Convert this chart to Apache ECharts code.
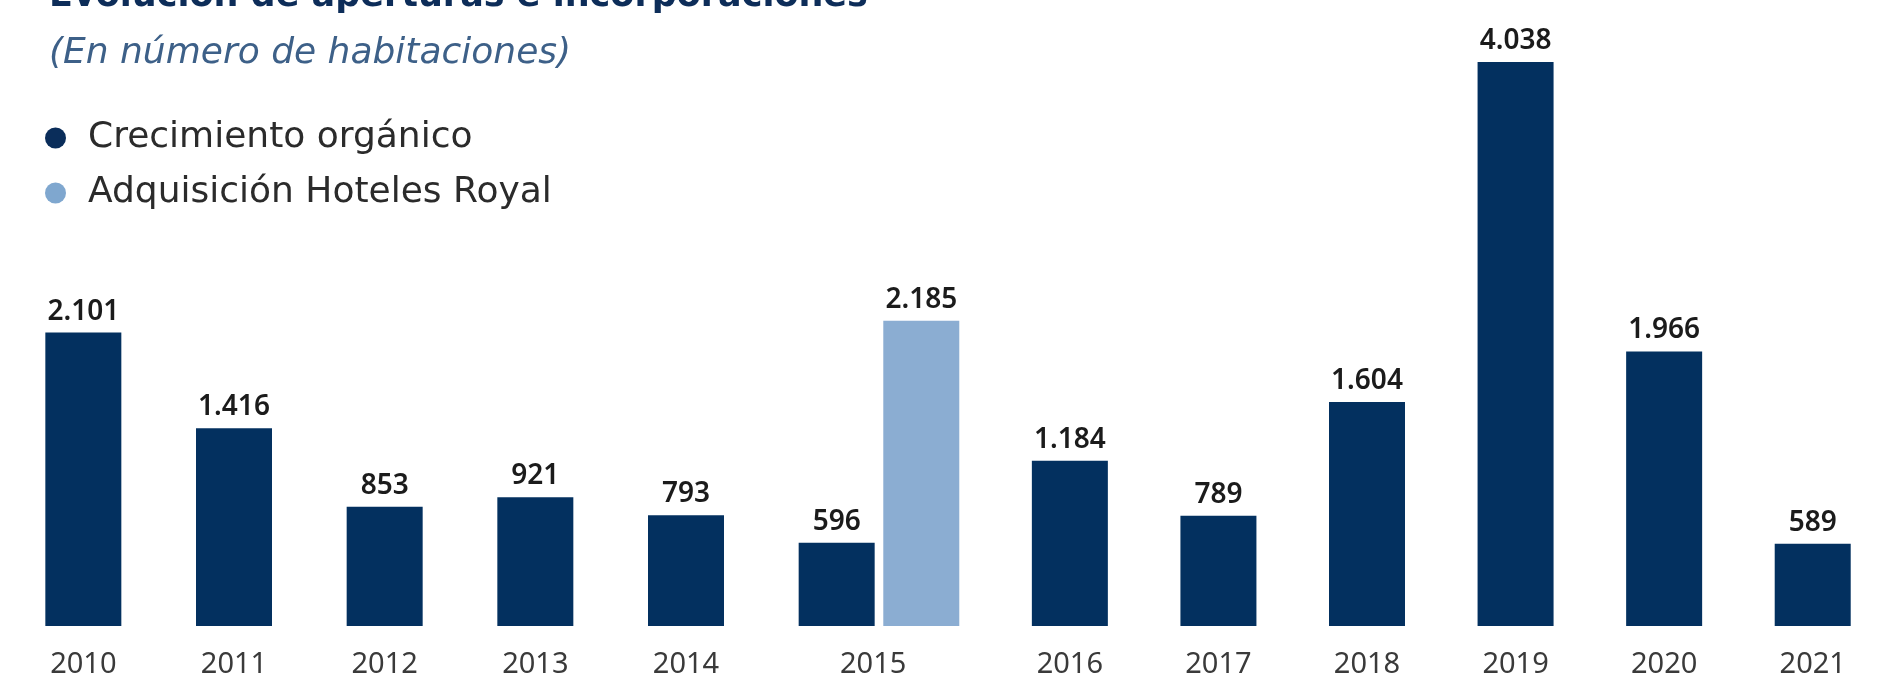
<!DOCTYPE html>
<html>
<head>
<meta charset="utf-8">
<title>Evolución de aperturas e incorporaciones</title>
<script src="https://cdn.jsdelivr.net/npm/echarts@6/dist/echarts.min.js"></script>
<style>
  html, body { margin: 0; padding: 0; background: #ffffff; }
  #chart { width: 1887px; height: 682px; }
</style>
</head>
<body>
<div id="chart"></div>
<script>
// Rooms opened / incorporated per year
const years = ['2010', '2011', '2012', '2013', '2014', '2015', '2016', '2017', '2018', '2019', '2020', '2021'];
const organico = [2101, 1416, 853, 921, 793, 596, 1184, 789, 1604, 4038, 1966, 589];
const royal = [null, null, null, null, null, 2185, null, null, null, null, null, null];

const NAME_ORG = 'Crecimiento orgánico';
const NAME_ROYAL = 'Adquisición Hoteles Royal';
const C_DARK = '#03305f';
const C_LIGHT = '#8badd2';
const FONT = '"Noto Sans", sans-serif';
const FONT_WIDE = '"DejaVu Sans", sans-serif';

// 2010–2015 (organic) sit in the first grid; the 2015 acquisition bar and 2016–2021 in the second
const splitIdx = years.indexOf('2015');
const catsA = years.slice(0, splitIdx + 1);
const catsB = ['2015'].concat(years.slice(splitIdx + 1));
const orgA = organico.slice(0, splitIdx + 1);
const orgB = [null].concat(organico.slice(splitIdx + 1));
const royB = [royal[splitIdx]].concat(years.slice(splitIdx + 1).map(() => null));

const yMax = Math.max(...organico, ...royal.filter(v => v != null));

const fmt = v => String(v).replace(/\B(?=(\d{3})+(?!\d))/g, '.');

const valueLabel = {
  show: true,
  position: 'top',
  distance: 7,
  color: '#1b1b1b',
  fontFamily: FONT,
  fontSize: 28,
  fontWeight: 600,
  formatter: p => (p.value == null ? '' : fmt(p.value))
};

const xLabelBase = {
  color: '#3a3a3a',
  fontFamily: FONT,
  fontSize: 29,
  margin: 24,
  interval: 0
};

const chart = echarts.init(document.getElementById('chart'), null, { renderer: 'canvas' });

chart.setOption({
  animation: false,
  backgroundColor: '#ffffff',
  title: [
    {
      text: 'Evolución de aperturas e incorporaciones',
      left: 44,
      top: -26,
      textStyle: { color: '#0d2d59', fontFamily: FONT_WIDE, fontSize: 35, fontWeight: 'bold' }
    },
    {
      text: '(En número de habitaciones)',
      left: 44,
      top: 31,
      textStyle: { color: '#3d6088', fontFamily: FONT_WIDE, fontSize: 36, fontStyle: 'italic', fontWeight: 'normal' }
    }
  ],
  legend: {
    orient: 'vertical',
    left: 45,
    top: 120,
    padding: 0,
    itemWidth: 21,
    itemHeight: 21,
    itemGap: 19,
    icon: 'circle',
    textStyle: { color: '#2b2b2b', fontFamily: FONT_WIDE, fontSize: 36, padding: [0, 0, 0, 17] },
    data: [
      { name: NAME_ORG, itemStyle: { color: '#0a2d5a' } },
      { name: NAME_ROYAL, itemStyle: { color: '#7fa7cf' } }
    ]
  },
  grid: [
    { left: 8, right: 975, top: 62, bottom: 56 },
    { left: 847, right: -13, top: 62, bottom: 56 }
  ],
  xAxis: [
    {
      type: 'category', gridIndex: 0, data: catsA,
      axisLine: { show: false }, axisTick: { show: false },
      axisLabel: Object.assign({}, xLabelBase, {
        formatter: v => (v === '2015' ? '{s|' + v + '}' : v),
        rich: { s: { color: xLabelBase.color, fontFamily: FONT, fontSize: 29, padding: [0, 0, 0, 73] } }
      })
    },
    {
      type: 'category', gridIndex: 1, data: catsB,
      axisLine: { show: false }, axisTick: { show: false },
      axisLabel: Object.assign({}, xLabelBase, {
        formatter: (v, i) => (i === 0 ? '' : v)
      })
    }
  ],
  yAxis: [
    { type: 'value', gridIndex: 0, min: 0, max: yMax, show: false, splitLine: { show: false } },
    { type: 'value', gridIndex: 1, min: 0, max: yMax, show: false, splitLine: { show: false } }
  ],
  series: [
    {
      name: NAME_ORG, type: 'bar', xAxisIndex: 0, yAxisIndex: 0,
      data: orgA, barWidth: 76,
      itemStyle: { color: C_DARK },
      label: valueLabel
    },
    {
      name: NAME_ORG, type: 'bar', xAxisIndex: 1, yAxisIndex: 1,
      data: orgB, barWidth: 76, stack: 'b',
      itemStyle: { color: C_DARK },
      label: valueLabel
    },
    {
      name: NAME_ROYAL, type: 'bar', xAxisIndex: 1, yAxisIndex: 1,
      data: royB, barWidth: 76, stack: 'b',
      itemStyle: { color: C_LIGHT },
      label: valueLabel
    }
  ]
});
</script>
</body>
</html>
